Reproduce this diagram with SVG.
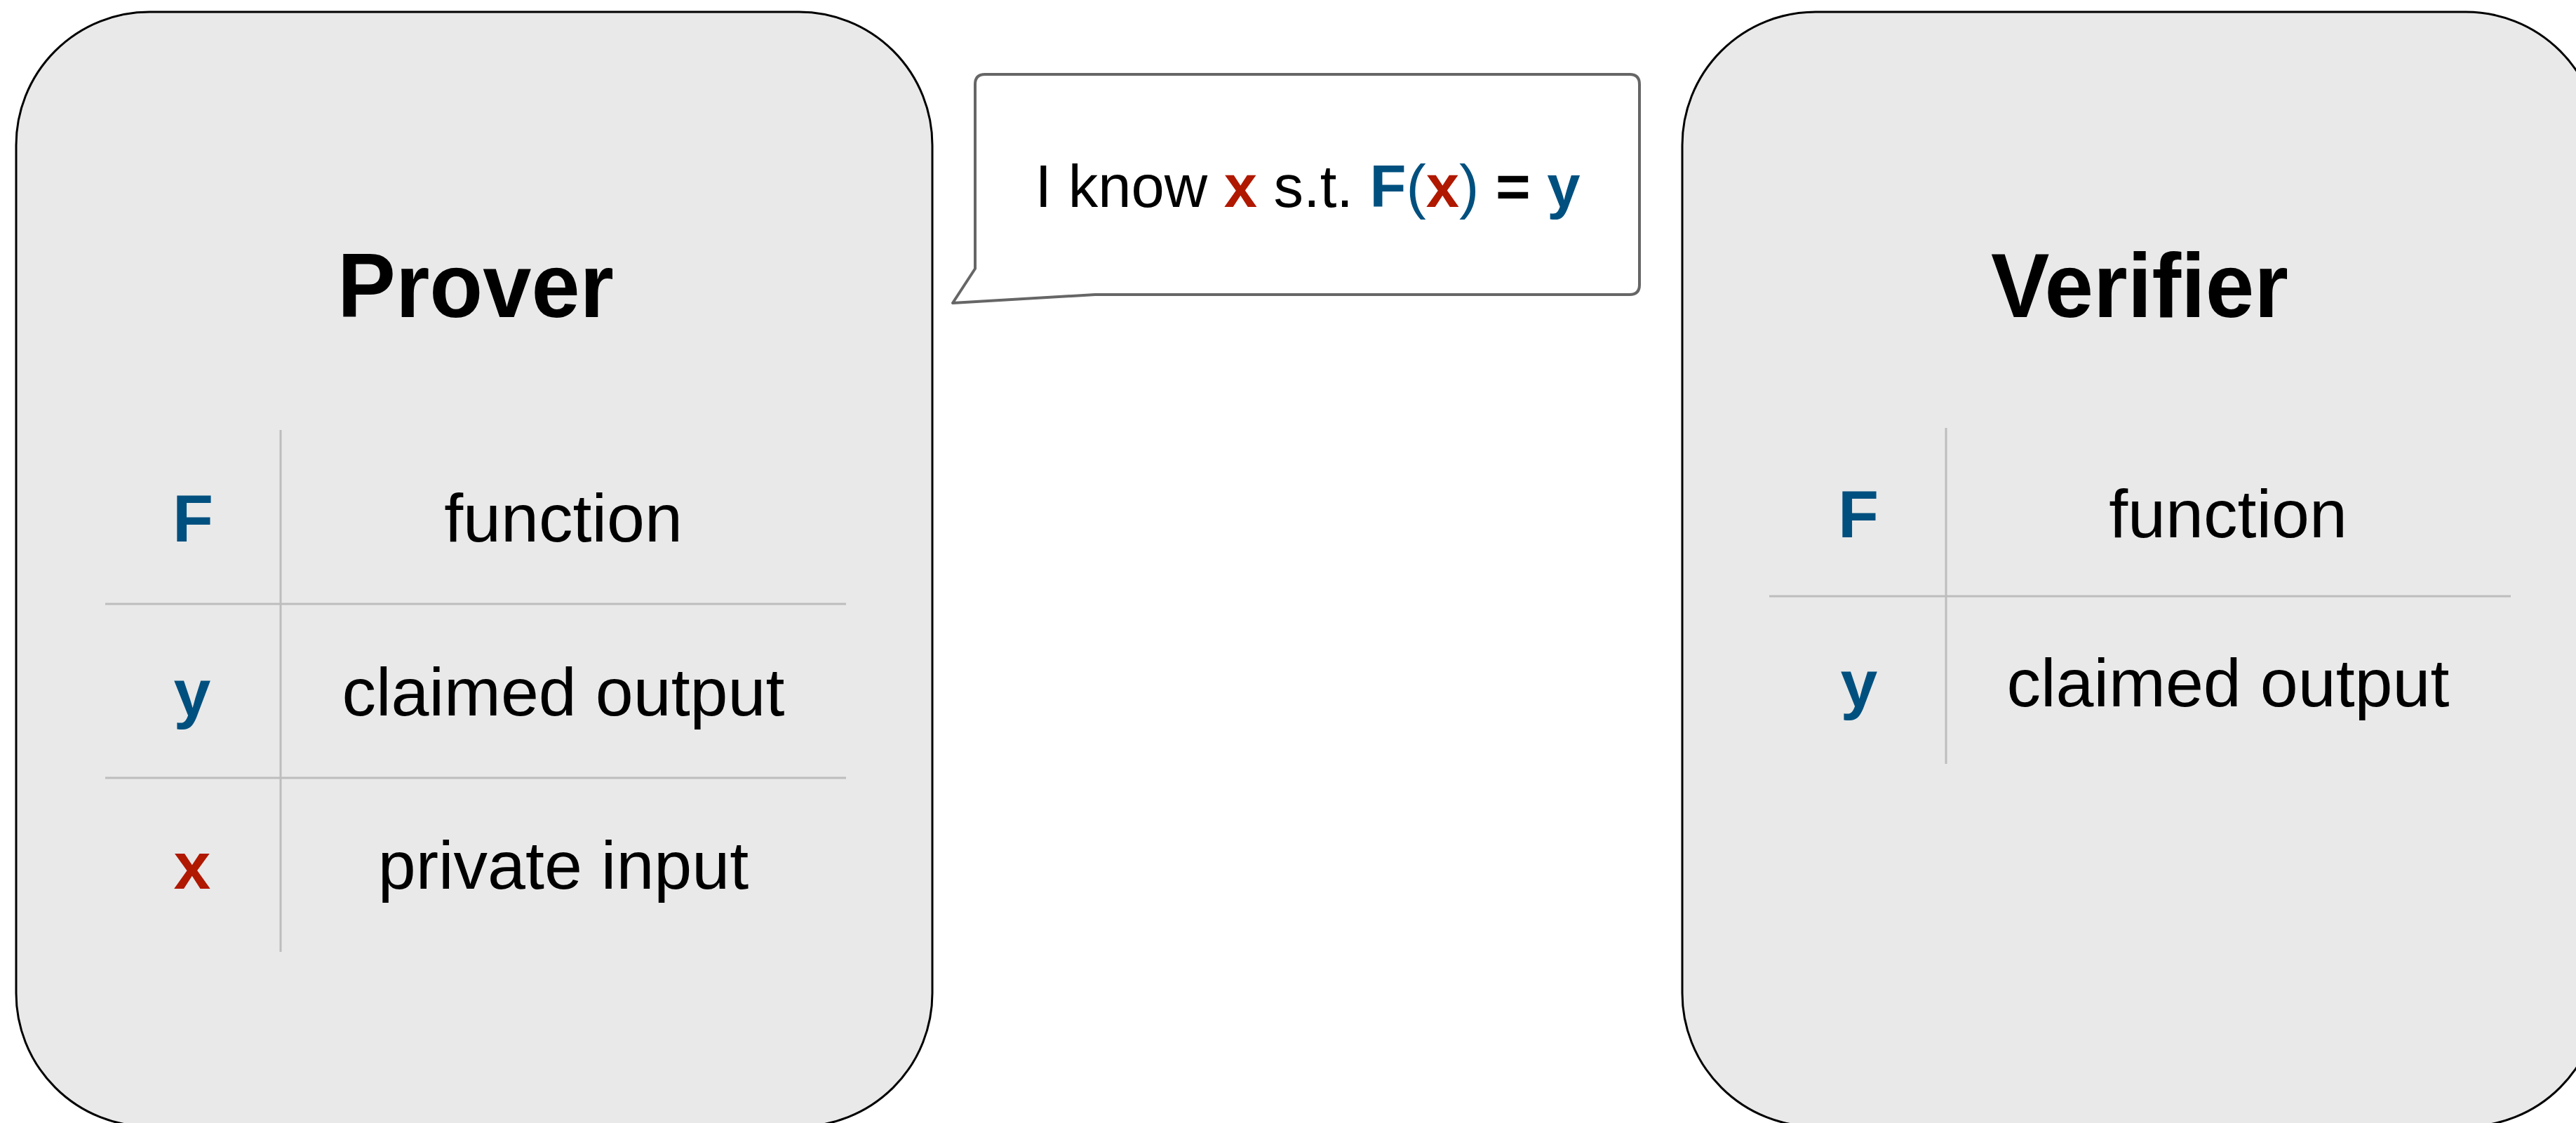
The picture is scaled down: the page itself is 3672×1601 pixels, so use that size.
<svg xmlns="http://www.w3.org/2000/svg" width="3672" height="1601" viewBox="0 0 3672 1601">
  <style>
    .party { fill: #e9e9e9; stroke: #000; stroke-width: 3; }
    .grid { stroke: #bdbdbd; stroke-width: 3; fill: none; }
    .title { font-family: "Liberation Sans", Arial, sans-serif; font-weight: 700; font-size: 130px; fill: #000; text-anchor: middle; }
    .sym { font-family: "Liberation Sans", Arial, sans-serif; font-weight: 700; font-size: 95px; text-anchor: middle; }
    .desc { font-family: "Liberation Sans", Arial, sans-serif; font-size: 97px; fill: #000; text-anchor: middle; }
    .blue { fill: #00507f; }
    .red { fill: #b01800; }
    .bubble { fill: #fff; stroke: #666; stroke-width: 4; stroke-linejoin: round; }
    .claim { font-family: "Liberation Sans", Arial, sans-serif; font-size: 85px; fill: #000; text-anchor: middle; }
    .b { font-weight: 700; }
  </style>

  <rect width="3672" height="1601" fill="#fff"/>

  <!-- Prover -->
  <g id="prover">
    <rect class="party" x="23" y="17" width="1306" height="1589" rx="190" ry="190"/>
    <text class="title" x="678" y="452" textLength="394" lengthAdjust="spacingAndGlyphs">Prover</text>
    <line class="grid" x1="400" y1="613" x2="400" y2="1357"/>
    <line class="grid" x1="150" y1="861" x2="1206" y2="861"/>
    <line class="grid" x1="150" y1="1109" x2="1206" y2="1109"/>
    <text class="sym blue" x="275" y="772">F</text>
    <text class="desc" x="803" y="772">function</text>
    <text class="sym blue" x="274" y="1020">y</text>
    <text class="desc" x="803" y="1020">claimed output</text>
    <text class="sym red" x="274" y="1267">x</text>
    <text class="desc" x="803" y="1267">private input</text>
  </g>

  <!-- Verifier -->
  <g id="verifier">
    <rect class="party" x="2398" y="17" width="1307" height="1589" rx="190" ry="190"/>
    <text class="title" x="3050" y="452" textLength="424" lengthAdjust="spacingAndGlyphs">Verifier</text>
    <line class="grid" x1="2774" y1="610" x2="2774" y2="1089"/>
    <line class="grid" x1="2522" y1="850" x2="3579" y2="850"/>
    <text class="sym blue" x="2649" y="766">F</text>
    <text class="desc" x="3176" y="766">function</text>
    <text class="sym blue" x="2650" y="1007">y</text>
    <text class="desc" x="3176" y="1007">claimed output</text>
  </g>

  <!-- Speech bubble from the prover -->
  <g id="claim">
    <path class="bubble" d="M1404,106 H2323 Q2337,106 2337,120 V406 Q2337,420 2323,420 H1561 L1358,432 L1390,383 V120 Q1390,106 1404,106 Z"/>
    <text class="claim" x="1864" y="295">I know <tspan class="b red">x</tspan> s.t. <tspan class="b blue">F</tspan><tspan class="blue">(</tspan><tspan class="b red">x</tspan><tspan class="blue">)</tspan> <tspan class="b">=</tspan> <tspan class="b blue">y</tspan></text>
  </g>

  <g id="connectors"></g>
</svg>
